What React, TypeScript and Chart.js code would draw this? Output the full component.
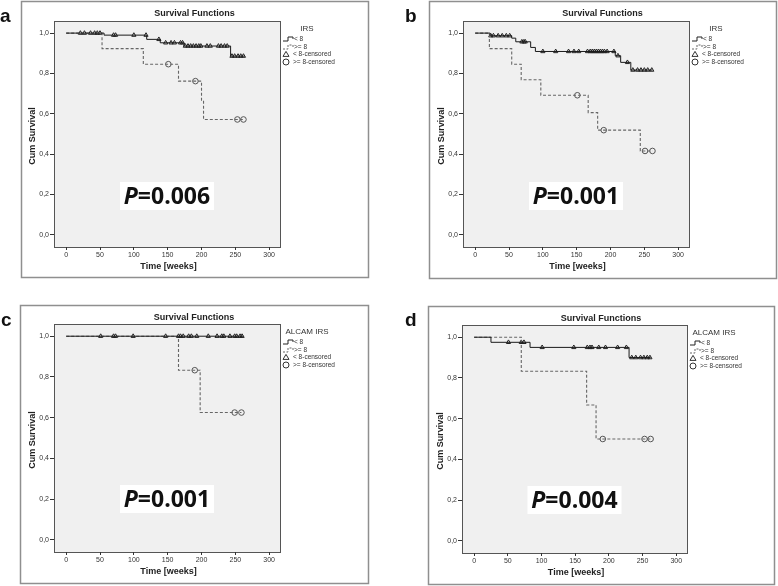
import React, { useEffect, useRef } from 'react';
import { Chart, registerables } from 'chart.js';
Chart.register(...registerables);

// ---------- Data ----------
const xTickValues = [0, 50, 100, 150, 200, 250, 300];
const yTickValues = [0, 0.2, 0.4, 0.6, 0.8, 1.0];
const lowLabel = '< 8';
const highLabel = '>= 8';

// Panel a (IRS)
const aLowTimes = [0, 56, 119, 139, 174, 243, 264];
const aLowSurv = [1.0, 0.99, 0.969, 0.952, 0.936, 0.886, 0.886];
const aLowCens = [21, 27, 36, 42, 46, 50, 70, 73, 100, 118, 137, 147, 155, 160, 169, 172, 176, 180, 184, 188, 192, 196, 199, 208, 213, 225, 229, 234, 238, 245, 249, 254, 258, 262];
const aHighTimes = [0, 53, 114, 166, 200, 203, 262];
const aHighSurv = [1.0, 0.923, 0.846, 0.762, 0.667, 0.572, 0.572];
const aHighCens = [151, 191, 253, 262];

// Panel b (IRS)
const bLowTimes = [0, 22, 54, 60, 82, 89, 207, 215, 230, 262];
const bLowSurv = [1.0, 0.987, 0.975, 0.957, 0.929, 0.909, 0.888, 0.855, 0.817, 0.817];
const bLowCens = [23, 27, 34, 40, 46, 51, 69, 72, 74, 100, 119, 138, 146, 153, 166, 170, 173, 176, 179, 182, 185, 188, 191, 195, 205, 211, 225, 233, 240, 245, 250, 255, 261];
const bHighTimes = [0, 21, 54, 68, 97, 167, 181, 244, 262];
const bHighSurv = [1.0, 0.923, 0.846, 0.769, 0.692, 0.606, 0.519, 0.416, 0.416];
const bHighCens = [151, 190, 251, 262];

// Panel c (ALCAM IRS)
const cLowTimes = [0, 262];
const cLowSurv = [1.0, 1.0];
const cLowCens = [51, 70, 73, 99, 147, 166, 169, 173, 181, 185, 193, 210, 223, 230, 233, 242, 249, 252, 257, 260];
const cHighTimes = [0, 166, 198, 259];
const cHighSurv = [1.0, 0.833, 0.625, 0.625];
const cHighCens = [190, 249, 259];

// Panel d (ALCAM IRS)
const dLowTimes = [0, 25, 83, 230, 262];
const dLowSurv = [1.0, 0.975, 0.95, 0.9, 0.9];
const dLowCens = [51, 70, 74, 101, 148, 168, 172, 175, 185, 195, 213, 226, 234, 240, 247, 252, 257, 261];
const dHighTimes = [0, 70, 167, 181, 262];
const dHighSurv = [1.0, 0.833, 0.667, 0.5, 0.5];
const dHighCens = [191, 253, 262];

const panelLetters = ['a', 'b', 'c', 'd'];
const groupTitles = ['IRS', 'IRS', 'ALCAM IRS', 'ALCAM IRS'];
const pValues = ['0.006', '0.001', '0.001', '0.004'];

// ---------- Layout (page coordinates) ----------
type Rect = [number, number, number, number];
interface Spec {
  letter: string; group: string; p: string;
  lowT: number[]; lowS: number[]; lowC: number[];
  highT: number[]; highS: number[]; highC: number[];
  canvas: { left: number; top: number; w: number; h: number };
  frame: Rect; plot: Rect; letterPos: [number, number];
}

const SPECS: Spec[] = [
  { letter: panelLetters[0], group: groupTitles[0], p: pValues[0], lowT: aLowTimes, lowS: aLowSurv, lowC: aLowCens, highT: aHighTimes, highS: aHighSurv, highC: aHighCens,
    canvas: { left: 0, top: 0, w: 389, h: 292 }, frame: [21, 1, 368, 277], plot: [54, 21, 280, 247], letterPos: [0, 22] },
  { letter: panelLetters[1], group: groupTitles[1], p: pValues[1], lowT: bLowTimes, lowS: bLowSurv, lowC: bLowCens, highT: bHighTimes, highS: bHighSurv, highC: bHighCens,
    canvas: { left: 389, top: 0, w: 389, h: 292 }, frame: [429, 1, 776, 278], plot: [463, 21, 689, 247], letterPos: [405, 22] },
  { letter: panelLetters[2], group: groupTitles[2], p: pValues[2], lowT: cLowTimes, lowS: cLowSurv, lowC: cLowCens, highT: cHighTimes, highS: cHighSurv, highC: cHighCens,
    canvas: { left: 0, top: 292, w: 389, h: 294 }, frame: [20, 305, 368, 583], plot: [54, 324, 280, 552], letterPos: [1, 326] },
  { letter: panelLetters[3], group: groupTitles[3], p: pValues[3], lowT: dLowTimes, lowS: dLowSurv, lowC: dLowCens, highT: dHighTimes, highS: dHighSurv, highC: dHighCens,
    canvas: { left: 389, top: 292, w: 389, h: 294 }, frame: [428, 306, 774, 584], plot: [462, 325, 687, 553], letterPos: [405, 326] },
];

const FONT = '"Liberation Sans", Arial, Helvetica, sans-serif';
const P_FONT = '"Open Sans", "Liberation Sans", Arial, sans-serif';
const Y_AXIS_W = 30;
const X_AXIS_H = 20;

function survAt(times: number[], surv: number[], t: number) {
  let s = surv[0];
  for (let i = 0; i < times.length; i++) if (times[i] <= t) s = surv[i];
  return s;
}

function Panel({ spec }: { spec: Spec }) {
  const ref = useRef<HTMLCanvasElement | null>(null);
  useEffect(() => {
    const cv = ref.current!;
    const { left: ox, top: oy, w, h } = spec.canvas;
    const fr = [spec.frame[0] - ox, spec.frame[1] - oy, spec.frame[2] - ox, spec.frame[3] - oy];
    const pl = [spec.plot[0] - ox, spec.plot[1] - oy, spec.plot[2] - ox, spec.plot[3] - oy];

    const deco = {
      id: 'deco' + spec.letter,
      beforeDraw(chart: any) {
        const ctx = chart.ctx;
        const a = chart.chartArea;
        ctx.save();
        ctx.fillStyle = '#ffffff';
        ctx.fillRect(0, 0, w, h);
        ctx.strokeStyle = '#8f8f8f';
        ctx.lineWidth = 1.5;
        ctx.strokeRect(fr[0] + 0.5, fr[1] + 0.5, fr[2] - fr[0], fr[3] - fr[1]);
        ctx.fillStyle = '#f0f0f0';
        ctx.fillRect(a.left, a.top, a.right - a.left, a.bottom - a.top);
        ctx.strokeStyle = '#555555';
        ctx.lineWidth = 1;
        ctx.strokeRect(a.left + 0.5, a.top + 0.5, a.right - a.left, a.bottom - a.top);
        ctx.restore();
      },
      afterDraw(chart: any) {
        const ctx = chart.ctx;
        const a = chart.chartArea;
        ctx.save();
        // panel letter
        ctx.fillStyle = '#111';
        ctx.font = `bold 19px ${FONT}`;
        ctx.textAlign = 'left';
        ctx.textBaseline = 'alphabetic';
        ctx.fillText(spec.letter, spec.letterPos[0] - ox, spec.letterPos[1] - oy);
        // title
        ctx.font = `bold 9px ${FONT}`;
        ctx.textAlign = 'center';
        ctx.textBaseline = 'middle';
        ctx.fillStyle = '#222';
        ctx.fillText('Survival Functions', (fr[0] + fr[2]) / 2, fr[1] + 13);
        // axis titles
        ctx.fillText('Time [weeks]', (a.left + a.right) / 2 + 1.5, a.bottom + 20);
        ctx.save();
        ctx.translate(a.left - 21, (a.top + a.bottom) / 2 + 2);
        ctx.rotate(-Math.PI / 2);
        ctx.fillText('Cum Survival', 0, 0);
        ctx.restore();
        // legend
        const lx = a.right + 3;
        ctx.fillStyle = '#333';
        ctx.font = `8px ${FONT}`;
        ctx.fillText(spec.group, a.right + 27, a.top + 8);
        ctx.font = `6.5px ${FONT}`;
        ctx.textAlign = 'left';
        const r1 = a.top + 18, r2 = a.top + 26, r3 = a.top + 33, r4 = a.top + 41;
        ctx.lineWidth = 1;
        ctx.strokeStyle = '#222';
        ctx.beginPath();
        ctx.moveTo(lx, r1 + 2); ctx.lineTo(lx + 5, r1 + 2); ctx.lineTo(lx + 5, r1 - 2); ctx.lineTo(lx + 10, r1 - 2); ctx.lineTo(lx + 10, r1);
        ctx.stroke();
        ctx.strokeStyle = '#666';
        ctx.setLineDash([2, 1.5]);
        ctx.beginPath();
        ctx.moveTo(lx, r2 + 2); ctx.lineTo(lx + 5, r2 + 2); ctx.lineTo(lx + 5, r2 - 2); ctx.lineTo(lx + 10, r2 - 2); ctx.lineTo(lx + 10, r2);
        ctx.stroke();
        ctx.setLineDash([]);
        ctx.fillText(lowLabel, lx + 11, r1);
        ctx.fillText(highLabel, lx + 11, r2);
        ctx.strokeStyle = '#333';
        ctx.beginPath();
        ctx.moveTo(lx + 3, r3 - 2.6); ctx.lineTo(lx + 6, r3 + 2.4); ctx.lineTo(lx, r3 + 2.4); ctx.closePath();
        ctx.stroke();
        ctx.beginPath();
        ctx.arc(lx + 3, r4, 3, 0, Math.PI * 2);
        ctx.stroke();
        ctx.fillText(lowLabel + '-censored', lx + 10, r3);
        ctx.fillText(highLabel + '-censored', lx + 10, r4);
        // P-value box
        const cx = (a.left + a.right) / 2;
        const cy = a.top + 175;
        ctx.fillStyle = '#ffffff';
        ctx.fillRect(cx - 47, cy - 14, 94, 28);
        ctx.fillStyle = '#111';
        ctx.textBaseline = 'alphabetic';
        const f1 = `italic bold 23px ${P_FONT}`;
        const f2 = `bold 23px ${P_FONT}`;
        const rest = '=' + spec.p;
        ctx.font = f1; const wP = ctx.measureText('P').width;
        ctx.font = f2; const wR = ctx.measureText(rest).width;
        const sx = cx - (wP + wR) / 2;
        ctx.font = f1; ctx.fillText('P', sx, cy + 8);
        ctx.font = f2; ctx.fillText(rest, sx + wP, cy + 8);
        ctx.restore();
      },
    };

    const chart = new Chart(cv, {
      type: 'line',
      data: {
        datasets: [
          {
            data: spec.lowT.map((t, i) => ({ x: t, y: spec.lowS[i] })),
            borderColor: '#1a1a1a', borderWidth: 1, stepped: 'before', pointRadius: 0, fill: false,
          },
          {
            data: spec.highT.map((t, i) => ({ x: t, y: spec.highS[i] })),
            borderColor: '#666666', borderWidth: 1.1, borderDash: [3, 2], stepped: 'before', pointRadius: 0, fill: false,
          },
          {
            data: spec.lowC.map((t) => ({ x: t, y: survAt(spec.lowT, spec.lowS, t) })),
            showLine: false, pointStyle: 'triangle', pointRadius: 2.4, borderColor: '#222', backgroundColor: 'rgba(0,0,0,0)', borderWidth: 1,
          },
          {
            data: spec.highC.map((t) => ({ x: t, y: survAt(spec.highT, spec.highS, t) })),
            showLine: false, pointStyle: 'circle', pointRadius: 2.8, borderColor: '#555', backgroundColor: 'rgba(0,0,0,0)', borderWidth: 1,
          },
        ],
      } as any,
      options: {
        animation: false,
        responsive: false,
        maintainAspectRatio: false,
        events: [],
        layout: {
          autoPadding: false,
          padding: { left: pl[0] - Y_AXIS_W, top: pl[1], right: w - pl[2], bottom: h - pl[3] - X_AXIS_H },
        },
        plugins: { legend: { display: false }, tooltip: { enabled: false }, title: { display: false } },
        scales: {
          x: {
            type: 'linear', min: -18, max: 316,
            afterFit: (s: any) => { s.height = X_AXIS_H; },
            afterBuildTicks: (s: any) => { s.ticks = xTickValues.map((v) => ({ value: v })); },
            grid: { drawOnChartArea: false, drawTicks: true, tickLength: 3, color: '#333', lineWidth: 1 },
            border: { display: false },
            ticks: { font: { size: 7, family: FONT }, color: '#333', padding: 1, maxRotation: 0, autoSkip: false, callback: (v: any) => String(v) },
          },
          y: {
            type: 'linear', min: -0.06, max: 1.06,
            afterFit: (s: any) => { s.width = Y_AXIS_W; },
            afterBuildTicks: (s: any) => { s.ticks = yTickValues.map((v) => ({ value: v })); },
            grid: { drawOnChartArea: false, drawTicks: true, tickLength: 4, color: '#333', lineWidth: 1 },
            border: { display: false },
            ticks: { font: { size: 7, family: FONT }, color: '#333', padding: 1, autoSkip: false, callback: (v: any) => Number(v).toFixed(1).replace('.', ',') },
          },
        },
      } as any,
      plugins: [deco],
    });
    return () => chart.destroy();
  }, [spec]);
  const c = spec.canvas;
  return (
    <canvas
      ref={ref}
      width={c.w}
      height={c.h}
      style={{ position: 'absolute', left: c.left, top: c.top, width: c.w, height: c.h, display: 'block' }}
    />
  );
}

export default function App() {
  return (
    <div style={{ position: 'absolute', left: 0, top: 0, width: 778, height: 586, background: '#fff', overflow: 'hidden' }}>
      {SPECS.map((s) => (
        <Panel key={s.letter} spec={s} />
      ))}
    </div>
  );
}
